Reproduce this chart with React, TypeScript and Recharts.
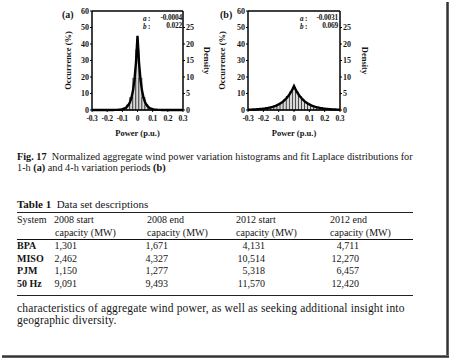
import React from "react";
import { Bar, ComposedChart, Line, ReferenceLine, XAxis, YAxis } from "recharts";

// x positions of the fitted curve (p.u.)
const POWER = [
  -0.3, -0.29, -0.28, -0.27, -0.26, -0.25, -0.24, -0.23, -0.22, -0.21,
  -0.2, -0.19, -0.18, -0.17, -0.16, -0.15, -0.14, -0.13, -0.12, -0.11,
  -0.1, -0.09, -0.08, -0.07, -0.06, -0.05, -0.04, -0.03, -0.02, -0.01,
  0, 0.01, 0.02, 0.03, 0.04, 0.05, 0.06, 0.07, 0.08, 0.09,
  0.1, 0.11, 0.12, 0.13, 0.14, 0.15, 0.16, 0.17, 0.18, 0.19,
  0.2, 0.21, 0.22, 0.23, 0.24, 0.25, 0.26, 0.27, 0.28, 0.29, 0.3,
];

// histogram bin centres (p.u.)
const BINS = [
  -0.3, -0.28, -0.26, -0.24, -0.22, -0.2, -0.18, -0.16, -0.14, -0.12, -0.1,
  -0.08, -0.06, -0.04, -0.02, 0, 0.02, 0.04, 0.06, 0.08, 0.1,
  0.12, 0.14, 0.16, 0.18, 0.2, 0.22, 0.24, 0.26, 0.28, 0.3,
];

// (a) 1-h: fit curve and histogram, occurrence (%)
const A_FIT = [
  0, 0, 0, 0, 0, 0, 0, 0, 0, 0.01,
  0.01, 0.01, 0.02, 0.02, 0.03, 0.05, 0.08, 0.12, 0.19, 0.31,
  0.48, 0.76, 1.2, 1.9, 3.0, 4.7, 7.4, 11.6, 18.3, 28.8,
  45.0, 28.8, 18.3, 11.6, 7.4, 4.7, 3.0, 1.9, 1.2, 0.76,
  0.48, 0.31, 0.19, 0.12, 0.08, 0.05, 0.03, 0.02, 0.02, 0.01,
  0.01, 0.01, 0, 0, 0, 0, 0, 0, 0, 0, 0,
];
const A_HIST = [
  0, 0, 0, 0, 0, 0, 0, 0, 0.08, 0.2, 0.5,
  1.2, 3.1, 7.6, 19.0, 36.5, 19.0, 7.6, 3.1, 1.2, 0.5,
  0.2, 0.08, 0, 0, 0, 0, 0, 0, 0, 0,
];

// (b) 4-h
const B_FIT = [
  0.19, 0.22, 0.25, 0.29, 0.33, 0.39, 0.45, 0.52, 0.6, 0.69,
  0.8, 0.92, 1.07, 1.23, 1.43, 1.65, 1.9, 2.2, 2.55, 2.95,
  3.4, 3.9, 4.55, 5.25, 6.1, 7.0, 8.1, 9.4, 10.85, 12.5,
  14.5, 12.5, 10.85, 9.4, 8.1, 7.0, 6.1, 5.25, 4.55, 3.9,
  3.4, 2.95, 2.55, 2.2, 1.9, 1.65, 1.43, 1.23, 1.07, 0.92,
  0.8, 0.69, 0.6, 0.52, 0.45, 0.39, 0.33, 0.29, 0.25, 0.22, 0.19,
];
const B_HIST = [
  0, 0.25, 0.33, 0.45, 0.6, 0.8, 1.05, 1.4, 1.9, 2.55, 3.4,
  4.55, 6.1, 8.2, 10.9, 13.5, 10.9, 8.2, 6.1, 4.55, 3.4,
  2.55, 1.9, 1.4, 1.05, 0.8, 0.6, 0.45, 0.33, 0.25, 0,
];

const X_TICKS = [-0.3, -0.2, -0.1, 0, 0.1, 0.2, 0.3];
const LEFT_TICKS = [0, 10, 20, 30, 40, 50, 60];
const RIGHT_TICKS = [0, 5, 10, 15, 20, 25];

const SYSTEMS = ["BPA", "MISO", "PJM", "50 Hz"];
const START_2008 = ["1,301", "2,462", "1,150", "9,091"];
const END_2008 = ["1,671", "4,327", "1,277", "9,493"];
const START_2012 = ["4,131", "10,514", "5,318", "11,570"];
const END_2012 = ["4,711", "12,270", "6,457", "12,420"];

const SERIF = '"Liberation Serif", "DejaVu Serif", serif';
const INK = "#151515";

const tickStyle = { fontSize: 8, fontWeight: 700, fontFamily: SERIF, fill: INK };
const xTickStyle = { ...tickStyle, fontSize: 7.6, letterSpacing: -0.2 };

function buildRows(fit: number[], hist: number[]) {
  return POWER.map((p, i) => {
    const j = BINS.findIndex((b) => Math.abs(b - p) < 1e-9);
    return { power: p, fit: fit[i], hist: j >= 0 ? hist[j] : null };
  });
}

// histogram bar: library gives the position, widen it to the 0.02 bin
const HistBar = (props: any) => {
  const { x, y, width, height, binPx } = props;
  if (!height || height <= 0) return null;
  const cx = x + width / 2;
  return (
    <rect
      x={cx - binPx / 2}
      y={y}
      width={binPx}
      height={height}
      fill="#d8d8d8"
      stroke="#111"
      strokeWidth={0.6}
    />
  );
};

function Panel({
  fit,
  hist,
  plotWidth,
  leftLabelOffset,
  rightLabelOffset,
}: {
  fit: number[];
  hist: number[];
  plotWidth: number;
  leftLabelOffset: number;
  rightLabelOffset: number;
}) {
  const data = buildRows(fit, hist);
  const binPx = (plotWidth * 0.02) / 0.6;
  const labelStyle = { fontSize: 8.5, fontWeight: 700, fontFamily: SERIF, fill: INK, textAnchor: "middle" as const };
  return (
    <ComposedChart
      width={37 + plotWidth + 32}
      height={140}
      data={data}
      margin={{ top: 11, right: 2, bottom: 0, left: 0 }}
    >
      <XAxis
        dataKey="power"
        type="number"
        domain={[-0.3, 0.3]}
        ticks={X_TICKS}
        interval={0}
        tickFormatter={(v: number) => (v === 0 ? "0" : v.toFixed(1))}
        tick={xTickStyle}
        tickSize={2}
        tickMargin={3.5}
        height={30}
        axisLine={{ stroke: "#000", strokeWidth: 1.5 }}
        tickLine={{ stroke: "#000" }}
        label={{ value: "Power (p.u.)", position: "insideBottom", offset: 4, style: labelStyle }}
      />
      <YAxis
        yAxisId="left"
        domain={[0, 60]}
        ticks={LEFT_TICKS}
        interval={0}
        width={37}
        tick={tickStyle}
        tickSize={2}
        tickMargin={1}
        axisLine={{ stroke: "#000", strokeWidth: 1.5 }}
        tickLine={{ stroke: "#000" }}
        label={{ value: "Occurrence (%)", angle: -90, position: "insideLeft", offset: leftLabelOffset, style: labelStyle }}
      />
      <YAxis
        yAxisId="right"
        orientation="right"
        domain={[0, 30]}
        allowDataOverflow
        ticks={RIGHT_TICKS}
        interval={0}
        width={30}
        tick={tickStyle}
        tickSize={2}
        tickMargin={1}
        axisLine={{ stroke: "#000", strokeWidth: 1.5 }}
        tickLine={{ stroke: "#000" }}
        label={{ value: "Density", angle: 90, position: "insideRight", offset: rightLabelOffset, style: labelStyle }}
      />
      <ReferenceLine yAxisId="left" y={60} stroke="#000" strokeWidth={1.5} />
      <Bar
        yAxisId="left"
        dataKey="hist"
        isAnimationActive={false}
        shape={(p: any) => <HistBar {...p} binPx={binPx} />}
      />
      <Line
        yAxisId="left"
        dataKey="fit"
        type="linear"
        stroke="#000"
        strokeWidth={2.4}
        dot={false}
        isAnimationActive={false}
      />
      {/* keeps the density axis bound to a series so its ticks render */}
      <Line
        yAxisId="right"
        dataKey="hist"
        stroke="none"
        dot={false}
        activeDot={false}
        legendType="none"
        isAnimationActive={false}
      />
    </ComposedChart>
  );
}

const abs = (left: number, top: number, extra: React.CSSProperties = {}): React.CSSProperties => ({
  position: "absolute",
  left,
  top,
  whiteSpace: "nowrap",
  lineHeight: 1,
  ...extra,
});

// place a single text line by its vertical centre
const line = (left: number, cy: number, size: number, extra: React.CSSProperties = {}): React.CSSProperties =>
  abs(left, cy - size * 0.55, { fontFamily: SERIF, color: INK, fontSize: size, ...extra });

function Params({ left, right, a, b }: { left: number; right: number; a: string; b: string }) {
  const s: React.CSSProperties = { fontWeight: 700, lineHeight: 0.85, letterSpacing: -0.2 };
  const valLeft = left + 10;
  return (
    <>
      <div style={line(left, 19.5, 7.2, s)}>
        <i>a</i> :
      </div>
      <div style={line(valLeft, 19.5, 7.4, { ...s, width: right - valLeft, textAlign: "right" })}>{a}</div>
      <div style={line(left, 27.5, 7.2, s)}>
        <i>b</i> :
      </div>
      <div style={line(valLeft, 27.5, 7.4, { ...s, width: right - valLeft, textAlign: "right" })}>{b}</div>
    </>
  );
}

export default function App() {
  const T = 10; // table font size
  const rowY = [246.5, 259, 271.5, 284.5];
  const numCols: [string[], number][] = [
    [START_2008, 77],
    [END_2008, 168],
    [START_2012, 265],
    [END_2012, 359],
  ];
  return (
    <div
      style={{
        position: "absolute",
        left: 0,
        top: 0,
        width: 450,
        height: 359,
        background: "#fff",
        overflow: "hidden",
        fontFamily: SERIF,
      }}
    >
      <div style={abs(55, 0)}>
        <Panel fit={A_FIT} hist={A_HIST} plotWidth={91} leftLabelOffset={13} rightLabelOffset={6} />
      </div>
      <div style={abs(211, 0)}>
        <Panel fit={B_FIT} hist={B_HIST} plotWidth={92} leftLabelOffset={11} rightLabelOffset={5} />
      </div>
      <div style={line(62, 15, 10, { fontWeight: 700 })}>(a)</div>
      <div style={line(220, 15, 10, { fontWeight: 700 })}>(b)</div>
      <Params left={143} right={182} a="-0.0004" b="0.022" />
      <Params left={300} right={338} a="-0.0031" b="0.069" />

      <div style={line(17, 158, 10.25)}>
        <b>Fig. 17</b>&nbsp; Normalized aggregate wind power variation histograms and fit Laplace distributions for
      </div>
      <div style={line(17, 168.5, 10.25)}>
        1-h <b>(a)</b> and 4-h variation periods <b>(b)</b>
      </div>

      <div style={line(17, 205, 11)}>
        <b>Table 1</b>&nbsp; Data set descriptions
      </div>
      <div style={abs(17, 211.5, { width: 396, height: 1, background: "#222" })} />
      <div style={line(17, 220, T)}>System</div>
      <div style={line(54, 220, T)}>2008 start</div>
      <div style={line(147, 220, T)}>2008 end</div>
      <div style={line(236, 220, T)}>2012 start</div>
      <div style={line(330, 220, T)}>2012 end</div>
      <div style={line(55, 233, T)}>capacity (MW)</div>
      <div style={line(147, 233, T)}>capacity (MW)</div>
      <div style={line(236, 233, T)}>capacity (MW)</div>
      <div style={line(330, 233, T)}>capacity (MW)</div>
      <div style={abs(17, 238.5, { width: 396, height: 1.6, background: "#111" })} />
      {SYSTEMS.map((s, i) => (
        <div key={s} style={line(17, rowY[i], T, { fontWeight: 700 })}>
          {s}
        </div>
      ))}
      {numCols.map(([vals, right], c) =>
        vals.map((v, i) => (
          <div key={`${c}-${i}`} style={line(right - 60, rowY[i], T, { width: 60, textAlign: "right" })}>
            {v}
          </div>
        ))
      )}
      <div style={abs(17, 294.5, { width: 396, height: 1, background: "#222" })} />

      <div style={line(17, 309, 11.5, { letterSpacing: 0.15 })}>
        characteristics of aggregate wind power, as well as seeking additional insight into
      </div>
      <div style={line(17, 321, 11.5, { letterSpacing: 0.15 })}>geographic diversity.</div>

      <div
        style={abs(446, 2, {
          width: 3,
          height: 356,
          background: "linear-gradient(to right, #888, #333, #777)",
        })}
      />
      <div
        style={abs(2, 355, {
          width: 447,
          height: 3,
          background: "linear-gradient(to bottom, #888, #333, #777)",
        })}
      />
    </div>
  );
}
